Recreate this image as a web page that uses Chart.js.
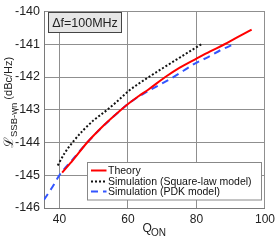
<!DOCTYPE html>
<html><head><meta charset="utf-8">
<script src="https://cdn.jsdelivr.net/npm/chart.js@4"></script>
<style>html,body{margin:0;padding:0;background:#fff}#w{width:279px;height:240px}</style>
</head><body><div id="w"><canvas id="c" width="279" height="240"></canvas></div>
<script>
const xTicks = [40, 60, 80, 100];
const theoryQ = [40.8, 44, 48.1, 52, 58, 60.3, 63.2, 66, 70.9, 75, 80, 84, 88.2, 92, 96.1];
const theoryY = [-144.92, -144.53, -144.0, -143.57, -143.0, -142.8, -142.58, -142.38, -142.0, -141.72, -141.44, -141.22, -141.0, -140.78, -140.55];
const squareQ = [39.5, 41.5, 43.8, 47, 50, 54, 57, 60.3, 63.2, 66.1, 70, 74, 78, 81.4];
const squareY = [-144.7, -144.33, -144.0, -143.62, -143.32, -143.0, -142.73, -142.42, -142.2, -142.0, -141.74, -141.48, -141.22, -141.0];
const pdkQ = [35.5, 38, 40, 44, 48.1, 52, 58, 60.3, 65.2, 69, 72.8, 76.2, 79.5, 83.4, 87.2, 90.9];
const pdkY = [-145.75, -145.35, -145.0, -144.5, -144.0, -143.58, -143.0, -142.8, -142.47, -142.25, -142.03, -141.81, -141.59, -141.39, -141.17, -141.0];
const seriesNames = ['Theory', 'Simulation (Square-law model)', 'Simulation (PDK model)'];
const annotationText = 'Δf=100MHz';

const pts = (xs, ys) => xs.map((x, i) => ({x, y: ys[i]}));
const FONT = '"Liberation Sans", Arial, sans-serif';

const styles = [
  {color: '#ff0000', dash: []},
  {color: '#111111', dash: [2, 2]},
  {color: '#3355ff', dash: [7, 5]}
];

const overlay = {
  id: 'overlay',
  afterDraw(chart) {
    const ctx = chart.ctx;
    const a = chart.chartArea;
    ctx.save();
    // annotation box
    ctx.fillStyle = '#e6e6e6';
    ctx.fillRect(48.5, 12.5, 73, 20);
    ctx.strokeStyle = '#444';
    ctx.lineWidth = 1;
    ctx.strokeRect(48.5, 12.5, 73, 20);
    ctx.fillStyle = '#222';
    ctx.font = '12.5px ' + FONT;
    ctx.textBaseline = 'alphabetic';
    ctx.textAlign = 'center';
    ctx.fillText(annotationText, 85, 27);
    // legend
    ctx.fillStyle = '#fff';
    ctx.fillRect(87.5, 162.5, 174, 37.5);
    ctx.strokeStyle = '#888';
    ctx.strokeRect(87.5, 162.5, 174, 37.5);
    const ly = [170.5, 181.5, 191.5];
    ctx.font = '10.5px ' + FONT;
    ctx.textAlign = 'left';
    ctx.textBaseline = 'middle';
    seriesNames.forEach((n, i) => {
      ctx.beginPath();
      ctx.strokeStyle = styles[i].color;
      ctx.lineWidth = 2;
      ctx.setLineDash(styles[i].dash);
      ctx.moveTo(91, ly[i]);
      ctx.lineTo(106.5, ly[i]);
      ctx.stroke();
      ctx.setLineDash([]);
      ctx.fillStyle = '#111';
      ctx.fillText(n, 108, ly[i] + 0.5);
    });
    // x title
    ctx.textBaseline = 'alphabetic';
    ctx.fillStyle = '#222';
    ctx.font = '12px ' + FONT;
    ctx.fillText('Q', 142.5, 231.5);
    ctx.font = '10px ' + FONT;
    ctx.fillText('ON', 151, 235.5);
    // y title
    ctx.translate(13, 148);
    ctx.rotate(-Math.PI / 2);
    ctx.font = '13px "DejaVu Serif", serif';
    ctx.fillText('ℒ', 0, 0);
    let w = ctx.measureText('ℒ').width;
    ctx.font = '9.5px ' + FONT;
    ctx.fillText('SSB-wn', w, 4);
    w += ctx.measureText('SSB-wn').width;
    ctx.font = '11px ' + FONT;
    ctx.fillText(' (dBc/Hz)', w, -1);
    ctx.restore();
  }
};

new Chart(document.getElementById('c'), {
  type: 'scatter',
  data: {
    datasets: [
      {label: seriesNames[0], data: pts(theoryQ, theoryY), borderColor: styles[0].color, borderDash: styles[0].dash},
      {label: seriesNames[1], data: pts(squareQ, squareY), borderColor: styles[1].color, borderDash: styles[1].dash},
      {label: seriesNames[2], data: pts(pdkQ, pdkY), borderColor: styles[2].color, borderDash: styles[2].dash}
    ].map(d => Object.assign(d, {showLine: true, pointRadius: 0, borderWidth: 2, tension: 0.4, cubicInterpolationMode: 'monotone', fill: false}))
  },
  options: {
    responsive: false,
    animation: false,
    devicePixelRatio: 1,
    layout: {padding: {left: 0, right: 11, top: 6, bottom: 0}},
    plugins: {legend: {display: false}, tooltip: {enabled: false}},
    scales: {
      x: {
        type: 'linear', min: 35.5, max: 100,
        afterBuildTicks: s => { s.ticks = xTicks.map(v => ({value: v})); },
        afterFit: s => { s.height = 32; },
        grid: {color: '#8f8f8f', lineWidth: 1, drawTicks: false},
        border: {color: '#7a7a7a', width: 1},
        ticks: {font: {family: FONT, size: 12}, color: '#222', padding: 4, maxRotation: 0}
      },
      y: {
        type: 'linear', min: -146, max: -140,
        ticks: {stepSize: 1, font: {family: FONT, size: 12.5}, color: '#222', padding: 4},
        afterFit: s => { s.width = 44; },
        grid: {color: '#8f8f8f', lineWidth: 1, drawTicks: false},
        border: {color: '#7a7a7a', width: 1}
      }
    }
  },
  plugins: [overlay]
});
</script></body></html>
